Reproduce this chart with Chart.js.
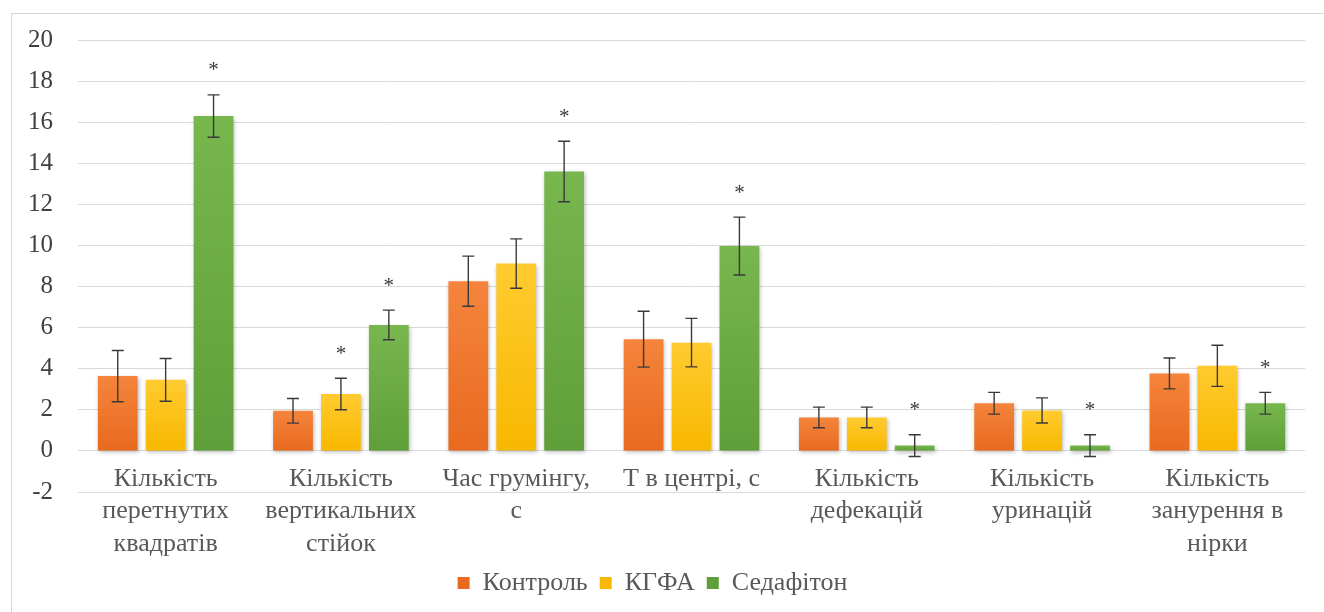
<!DOCTYPE html>
<html>
<head>
<meta charset="utf-8">
<script src="https://cdn.jsdelivr.net/npm/chart.js@4.4.1/dist/chart.umd.min.js"></script>
<style>
  html, body { margin: 0; padding: 0; background: #fff; }
  #wrap { position: relative; width: 1324px; height: 612px; overflow: hidden; }
  #frame { position: absolute; left: 11px; top: 13px; width: 1340px; height: 640px; border: 1px solid #d6d6d6; box-sizing: border-box; }
  #chart { position: absolute; left: 0; top: 0; }
</style>
</head>
<body>
<div id="wrap">
  <div id="frame"></div>
  <canvas id="chart" width="1324" height="612"></canvas>
</div>
<script>
const categories = [
  ["Кількість", "перетнутих", "квадратів"],
  ["Кількість", "вертикальних", "стійок"],
  ["Час грумінгу,", "с"],
  ["Т в центрі, с"],
  ["Кількість", "дефекацій"],
  ["Кількість", "уринацій"],
  ["Кількість", "занурення в", "нірки"]
];
const seriesNames = ["Контроль", "КГФА", "Седафітон"];

const control = [3.64, 1.95, 8.26, 5.44, 1.63, 2.32, 3.77];
const kgfa = [3.46, 2.77, 9.12, 5.27, 1.63, 1.97, 4.14];
const sedafiton = [16.3, 6.13, 13.6, 9.97, 0.26, 0.26, 2.32];

// standard errors
const controlErr = [1.25, 0.6, 1.22, 1.36, 0.5, 0.53, 0.75];
const kgfaErr = [1.04, 0.77, 1.2, 1.18, 0.5, 0.61, 1.0];
const sedafitonErr = [1.03, 0.72, 1.47, 1.41, 0.53, 0.53, 0.53];

// significant difference (*)
const controlSig = [0, 0, 0, 0, 0, 0, 0];
const kgfaSig = [0, 1, 0, 0, 0, 0, 0];
const sedafitonSig = [1, 1, 1, 1, 1, 1, 1];

const yTicks = [-2, 0, 2, 4, 6, 8, 10, 12, 14, 16, 18, 20];

const FONT = "'Liberation Serif', 'Times New Roman', serif";

// vertical gradient for every bar, lighter at the top
function barFill(top, bottom, solid) {
  return (c) => {
    const chart = c.chart;
    const y = chart.scales.y;
    if (!chart.chartArea || !y || c.type !== "data") return solid;
    const v = c.parsed ? c.parsed.y : 0;
    const y1 = y.getPixelForValue(v);
    const y0 = y.getPixelForValue(0);
    if (!isFinite(y1) || Math.abs(y0 - y1) < 1) return bottom;
    const g = chart.ctx.createLinearGradient(0, y1, 0, y0);
    g.addColorStop(0, top);
    g.addColorStop(1, bottom);
    return g;
  };
}

const barShadow = {
  id: "barShadow",
  beforeDatasetsDraw(chart) {
    const ctx = chart.ctx;
    ctx.save();
    ctx.shadowColor = "rgba(0,0,0,0.28)";
    ctx.shadowBlur = 4;
    ctx.shadowOffsetX = 1;
    ctx.shadowOffsetY = 2;
  },
  afterDatasetsDraw(chart) {
    chart.ctx.restore();
  }
};

const errorBars = {
  id: "errorBars",
  afterDatasetsDraw(chart) {
    const { ctx, scales: { y } } = chart;
    ctx.save();
    ctx.strokeStyle = "#3a3a3a";
    ctx.fillStyle = "#3a3a3a";
    ctx.lineWidth = 1.4;
    ctx.font = "21px " + FONT;
    ctx.textAlign = "center";
    ctx.textBaseline = "middle";
    chart.data.datasets.forEach((ds, di) => {
      const meta = chart.getDatasetMeta(di);
      meta.data.forEach((bar, i) => {
        const v = ds.data[i], e = ds.errors[i];
        const top = y.getPixelForValue(v + e);
        const bot = y.getPixelForValue(v - e);
        ctx.beginPath();
        ctx.moveTo(bar.x, top);
        ctx.lineTo(bar.x, bot);
        ctx.moveTo(bar.x - 6, top);
        ctx.lineTo(bar.x + 6, top);
        ctx.moveTo(bar.x - 6, bot);
        ctx.lineTo(bar.x + 6, bot);
        ctx.stroke();
        if (ds.marks[i]) ctx.fillText("*", bar.x, top - 24);
      });
    });
    ctx.restore();
  }
};

new Chart(document.getElementById("chart").getContext("2d"), {
  type: "bar",
  data: {
    labels: categories,
    datasets: [
      {
        label: seriesNames[0],
        data: control,
        errors: controlErr,
        marks: controlSig,
        backgroundColor: barFill("#f5843c", "#e86a1f", "#ed7d31"),
      },
      {
        label: seriesNames[1],
        data: kgfa,
        errors: kgfaErr,
        marks: kgfaSig,
        backgroundColor: barFill("#ffcb30", "#f8b800", "#ffc000"),
      },
      {
        label: seriesNames[2],
        data: sedafiton,
        errors: sedafitonErr,
        marks: sedafitonSig,
        backgroundColor: barFill("#78b74e", "#5f9f39", "#70ad47"),
      },
    ],
  },
  options: {
    responsive: false,
    animation: false,
    devicePixelRatio: 1,
    categoryPercentage: 0.82,
    barPercentage: 0.83,
    layout: { padding: { top: 14, right: 19, bottom: 6, left: 0 } },
    scales: {
      // category labels hang from the zero line
      x: {
        position: { y: 0 },
        grid: { display: false, drawTicks: false },
        border: { display: false },
        ticks: {
          autoSkip: false,
          maxRotation: 0,
          padding: 12,
          color: "#595959",
          font: { family: FONT, size: 26, lineHeight: 1.25 },
        },
      },
      // empty axis that keeps room for the labels under the plot
      xSpace: {
        type: "category",
        position: "bottom",
        grid: { display: false, drawTicks: false },
        border: { display: false },
        ticks: { display: false },
        afterFit: (s) => { s.height = 66; },
      },
      y: {
        min: -2,
        max: 20,
        afterFit: (s) => { s.width = 78; },
        afterBuildTicks: (s) => { s.ticks = yTicks.map((v) => ({ value: v })); },
        grid: { color: "#d9d9d9", lineWidth: 1, drawTicks: false },
        border: { display: false },
        ticks: {
          padding: 25,
          color: "#404040",
          font: { family: FONT, size: 25 },
        },
      },
    },
    plugins: {
      legend: {
        position: "bottom",
        labels: {
          boxWidth: 12,
          boxHeight: 12,
          padding: 12,
          color: "#595959",
          font: { family: FONT, size: 26 },
        },
      },
      tooltip: { enabled: false },
    },
  },
  plugins: [barShadow, errorBars],
});
</script>
</body>
</html>
